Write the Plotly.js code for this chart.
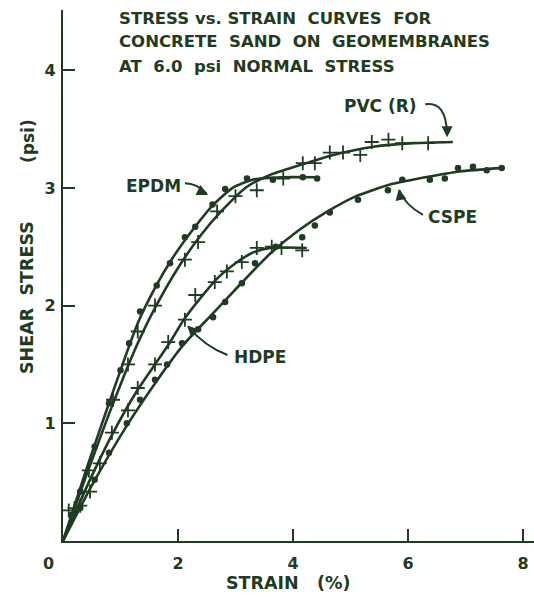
<!DOCTYPE html>
<html>
<head>
<meta charset="utf-8">
<script src="https://cdn.plot.ly/plotly-3.0.1.min.js"></script>
<style>html,body{margin:0;padding:0;background:#fff;}#chart{width:534px;height:604px;}</style>
</head>
<body>
<div id="chart"></div>
<script>
// ---- Data ----
const titleLines = ['STRESS vs. STRAIN  CURVES  FOR', 'CONCRETE  SAND  ON  GEOMEMBRANES', 'AT  6.0  psi  NORMAL  STRESS'];
const xTickVals = [2, 4, 6, 8];
const yTickVals = [1, 2, 3, 4];
const originLabel = '0';
const xTitle = 'STRAIN   (%)';
const yTitleMain = 'SHEAR  STRESS';
const yTitleUnit = '(psi)';
const seriesNames = ['EPDM', 'PVC (R)', 'HDPE', 'CSPE'];

// fitted curves
const epdmFitX = [0, 0.4, 0.75, 1.05, 1.3, 1.6, 1.9, 2.25, 2.6, 2.95, 3.3, 3.8, 4.42];
const epdmFitY = [0, 0.6, 1.1, 1.52, 1.85, 2.15, 2.4, 2.64, 2.85, 3.0, 3.07, 3.09, 3.09];
const pvcFitX = [0, 0.4, 0.8, 1.1, 1.3, 1.6, 2.0, 2.4, 2.75, 3.2, 3.6, 4.1, 4.7, 5.4, 6.1, 6.78];
const pvcFitY = [0, 0.55, 1.08, 1.45, 1.68, 1.98, 2.32, 2.6, 2.8, 3.01, 3.11, 3.19, 3.28, 3.35, 3.38, 3.39];
const hdpeFitX = [0, 0.45, 0.85, 1.28, 1.6, 1.85, 2.1, 2.4, 2.7, 3.0, 3.3, 3.6, 4.24];
const hdpeFitY = [0, 0.5, 0.9, 1.27, 1.5, 1.68, 1.88, 2.07, 2.24, 2.36, 2.45, 2.49, 2.49];
const cspeFitX = [0, 0.5, 1.11, 1.63, 2.1, 2.6, 3.1, 3.6, 4.1, 4.6, 5.1, 5.7, 6.3, 6.9, 7.65];
const cspeFitY = [0, 0.47, 0.98, 1.36, 1.67, 1.93, 2.19, 2.44, 2.64, 2.8, 2.93, 3.03, 3.09, 3.14, 3.17];

// measured points
const epdmPtsX = [0.15, 0.3, 0.55, 0.8, 1.0, 1.15, 1.34, 1.63, 1.86, 2.12, 2.3, 2.6, 2.82, 3.2, 3.65, 4.17, 4.42];
const epdmPtsY = [0.22, 0.42, 0.8, 1.17, 1.45, 1.68, 1.95, 2.17, 2.36, 2.58, 2.67, 2.86, 2.99, 3.08, 3.07, 3.09, 3.08];
const pvcPtsX = [0.1, 0.2, 0.45, 0.87, 1.13, 1.3, 1.6, 2.12, 2.35, 2.68, 3.0, 3.37, 3.83, 4.17, 4.38, 4.64, 4.87, 5.17, 5.37, 5.66, 5.9, 6.35];
const pvcPtsY = [0.26, 0.28, 0.6, 1.2, 1.5, 1.78, 2.0, 2.39, 2.54, 2.8, 2.93, 2.98, 3.08, 3.21, 3.21, 3.3, 3.3, 3.28, 3.39, 3.41, 3.38, 3.38];
const hdpePtsX = [0.3, 0.47, 0.64, 0.85, 1.13, 1.3, 1.6, 1.83, 2.12, 2.3, 2.64, 2.85, 3.11, 3.37, 3.63, 3.8, 4.16];
const hdpePtsY = [0.3, 0.42, 0.66, 0.92, 1.11, 1.3, 1.5, 1.69, 1.88, 2.09, 2.2, 2.29, 2.37, 2.49, 2.5, 2.49, 2.47];
const cspePtsX = [0.3, 0.55, 0.8, 1.11, 1.34, 1.6, 1.81, 2.07, 2.35, 2.61, 2.82, 3.11, 3.34, 3.7, 4.16, 4.38, 4.64, 5.13, 5.65, 5.9, 6.38, 6.64, 6.87, 7.13, 7.37, 7.63];
const cspePtsY = [0.28, 0.52, 0.75, 1.0, 1.2, 1.37, 1.5, 1.68, 1.8, 1.9, 2.03, 2.19, 2.36, 2.5, 2.58, 2.68, 2.79, 2.9, 2.98, 3.07, 3.07, 3.08, 3.17, 3.18, 3.15, 3.17];

// ---- Styling ----
const INK = '#1f3b21';
const FONT = 'DejaVu Sans, sans-serif';

function fit(x, y) {
  return {x: x, y: y, type: 'scatter', mode: 'lines', showlegend: false, hoverinfo: 'skip',
          line: {color: INK, width: 2.6, shape: 'spline', smoothing: 0.6}};
}
function dots(x, y) {
  return {x: x, y: y, type: 'scatter', mode: 'markers', showlegend: false,
          marker: {symbol: 'circle', size: 6.5, color: INK}};
}
function pluses(x, y) {
  return {x: x, y: y, type: 'scatter', mode: 'markers', showlegend: false,
          marker: {symbol: 'cross-thin-open', size: 10, color: INK, line: {color: INK, width: 1.8}}};
}

const traces = [
  fit(epdmFitX, epdmFitY), fit(pvcFitX, pvcFitY), fit(hdpeFitX, hdpeFitY), fit(cspeFitX, cspeFitY),
  dots(epdmPtsX, epdmPtsY), pluses(pvcPtsX, pvcPtsY), pluses(hdpePtsX, hdpePtsY), dots(cspePtsX, cspePtsY)
];

// pixel helpers for layout placement (plot area: left 63, top 10, width 471, height 531)
const PL = 63, PT = 10, PW = 471, PH = 531;
const px = v => (v - PL) / PW;
const py = v => (PT + PH - v) / PH;

const txt = size => ({family: FONT, size: size, color: INK, weight: 'bold'});

const annotations = [];
titleLines.forEach((t, i) => {
  annotations.push({xref: 'paper', yref: 'paper', x: px(117), y: py([18, 42, 66][i]), xanchor: 'left', yanchor: 'middle',
    text: t, showarrow: false, font: txt(16.5)});
});
annotations.push({xref: 'paper', yref: 'paper', x: px(48), y: py(563), text: originLabel, showarrow: false, font: txt(16), xanchor: 'center', yanchor: 'middle'});
annotations.push({xref: 'paper', yref: 'paper', x: px(288), y: py(583), text: xTitle, showarrow: false, font: txt(17.5), xanchor: 'center', yanchor: 'middle'});
annotations.push({xref: 'paper', yref: 'paper', x: px(27), y: py(298), text: yTitleMain, textangle: -90, showarrow: false, font: txt(17.5), xanchor: 'center', yanchor: 'middle'});
annotations.push({xref: 'paper', yref: 'paper', x: px(28), y: py(141), text: yTitleUnit, textangle: -90, showarrow: false, font: txt(17), xanchor: 'center', yanchor: 'middle'});

// series labels (data coords)
const labelPos = [[1.58, 3.02], [5.53, 3.70], [3.43, 1.56], [6.78, 2.75]];
seriesNames.forEach((n, i) => {
  annotations.push({x: labelPos[i][0], y: labelPos[i][1], text: n, showarrow: false, font: txt(17), xanchor: 'center', yanchor: 'middle'});
});
// arrowheads at leader tips
const tips = [[2.52, 2.94, -10, -5], [6.68, 3.43, 0, -10], [2.16, 1.83, 8, 8], [5.84, 2.99, 2, 10]];
tips.forEach(t => {
  annotations.push({x: t[0], y: t[1], ax: t[2], ay: t[3], text: '', showarrow: true, arrowhead: 2, arrowsize: 1.1,
    arrowwidth: 2, arrowcolor: INK, standoff: 0});
});

const lead = {type: 'path', xref: 'x', yref: 'y', line: {color: INK, width: 2}};
const shapes = [
  Object.assign({}, lead, {path: 'M 2.12,3.04 Q 2.33,3.04 2.50,2.95'}),
  Object.assign({}, lead, {path: 'M 6.30,3.71 Q 6.66,3.74 6.68,3.46'}),
  Object.assign({}, lead, {path: 'M 2.86,1.58 Q 2.45,1.66 2.18,1.82'}),
  Object.assign({}, lead, {path: 'M 6.26,2.77 Q 5.94,2.86 5.85,2.98'})
];

const axisCommon = {
  showline: true, linecolor: INK, linewidth: 2.2, ticks: 'inside', ticklen: 12, tickwidth: 2, tickcolor: INK,
  showgrid: false, zeroline: false, tickfont: {family: FONT, size: 16, color: INK, weight: 'bold'}, fixedrange: true
};

const layout = {
  width: 534, height: 604,
  margin: {l: PL, r: 0, t: PT, b: 604 - PT - PH},
  paper_bgcolor: '#ffffff', plot_bgcolor: '#ffffff',
  showlegend: false,
  xaxis: Object.assign({}, axisCommon, {range: [0, PW / 57.5], tickvals: xTickVals, ticktext: xTickVals.map(String), ticklabelstandoff: 7}),
  yaxis: Object.assign({}, axisCommon, {range: [0, PH / 117.7], tickvals: yTickVals, ticktext: yTickVals.map(String), ticklabelstandoff: 2}),
  annotations: annotations,
  shapes: shapes
};

Plotly.newPlot('chart', traces, layout, {displayModeBar: false, staticPlot: true});
</script>
</body>
</html>
